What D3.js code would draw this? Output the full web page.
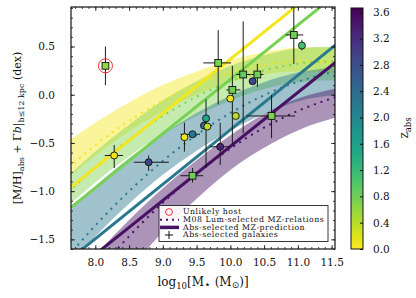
<!DOCTYPE html>
<html><head><meta charset="utf-8">
<script src="https://cdn.jsdelivr.net/npm/d3@7"></script>
<style>
body{margin:0;background:#fff}
text{font-family:"DejaVu Serif",serif;fill:#111}
</style>
</head><body>
<svg id="c" width="416" height="298"></svg>
<script>
// ---------- data ----------
const xTicks = [8.0, 8.5, 9.0, 9.5, 10.0, 10.5, 11.0, 11.5];
const yTicks = [-1.5, -1.0, -0.5, 0.0, 0.5];
const cbTicks = [0.0, 0.4, 0.8, 1.2, 1.6, 2.0, 2.4, 2.8, 3.2, 3.6];

// M08 luminosity-selected MZ relations (dotted centre + shaded range)
const bandZ = [0.07, 0.7, 2.2, 3.5];
const massGrid = [7.6, 8.0, 8.5, 9.0, 9.5, 10.0, 10.5, 11.0, 11.6];
const bandMid = [
  [-0.757, -0.524, -0.271, -0.061, 0.106, 0.230, 0.310, 0.347, 0.335],
  [-1.012, -0.751, -0.464, -0.221, -0.020, 0.137, 0.251, 0.322, 0.350],
  [-1.674, -1.357, -1.001, -0.687, -0.417, -0.189, -0.005, 0.135, 0.247],
  [-2.200, -1.858, -1.468, -1.121, -0.818, -0.558, -0.341, -0.168, -0.016]
];
const bandHi = [
  [-0.48, -0.29, -0.08, 0.10, 0.24, 0.36, 0.44, 0.49, 0.49],
  [-0.84, -0.59, -0.31, -0.06, 0.14, 0.30, 0.41, 0.48, 0.50],
  [-1.22, -0.95, -0.66, -0.41, -0.19, -0.01, 0.13, 0.23, 0.29],
  [-1.95, -1.66, -1.30, -0.97, -0.68, -0.42, -0.20, -0.04, 0.07]
];
const bandLo = [
  [-0.86, -0.63, -0.38, -0.17, 0.00, 0.13, 0.21, 0.24, 0.22],
  [-1.15, -0.91, -0.64, -0.41, -0.22, -0.06, 0.06, 0.13, 0.15],
  [-1.78, -1.47, -1.13, -0.83, -0.58, -0.37, -0.20, -0.07, 0.00],
  [-2.60, -2.25, -1.82, -1.42, -1.08, -0.78, -0.55, -0.37, -0.23]
];

// Abs-selected MZ predictions (straight lines)
const lineZ = [0.07, 0.75, 2.2, 3.5];
const lineMass = [7.6, 11.6];
const lineMet = [
  [-0.98, 1.27],
  [-1.19, 1.06],
  [-1.72, 0.54],
  [-1.88, 0.36]
];

// Abs-selected galaxies
const galMass  = [8.28, 8.79, 9.44, 9.32, 9.44, 9.64, 9.61, 9.66, 9.82, 10.19, 10.40, 10.33, 10.03, 10.00, 10.08, 10.61, 10.94, 11.06, 9.85];
const galMet   = [-0.63, -0.70, -0.84, -0.44, -0.41, -0.245, -0.32, -0.33, 0.33, 0.21, 0.21, 0.14, 0.05, -0.04, -0.22, -0.22, 0.62, 0.51, -0.54];
const galZ     = [0.10, 2.9, 0.8, 0.10, 2.2, 1.5, 2.4, 0.35, 0.75, 0.9, 0.8, 2.9, 0.8, 0.10, 0.40, 0.7, 0.8, 1.1, 3.3];
const galShape = ["o","o","s","o","o","o","o","o","s","s","s","o","s","o","o","s","s","o","o"];
const galMassLo = [8.14, 8.57, 9.26, 9.32, 9.26, 9.64, 9.55, 9.66, 9.60, 10.09, 10.31, 10.33, 9.94, 10.00, 10.08, 10.24, 10.82, 11.06, 9.70];
const galMassHi = [8.41, 9.09, 9.60, 9.32, 9.55, 9.64, 9.73, 9.66, 10.01, 10.30, 10.49, 10.33, 10.15, 10.00, 10.08, 10.96, 11.08, 11.06, 10.00];
const galMetLo  = [-0.76, -0.79, -0.91, -0.59, -0.41, -0.76, -0.32, -0.33, -0.10, -0.40, 0.08, 0.14, -0.52, -0.04, -0.22, -0.45, 0.32, 0.46, -0.73];
const galMetHi  = [-0.52, -0.63, -0.76, -0.29, -0.41, -0.05, -0.32, -0.33, 0.67, 0.76, 0.32, 0.14, 0.30, -0.04, -0.22, 0.00, 0.91, 0.57, -0.29];

// Unlikely host
const hostMass = [8.15];
const hostMet = [0.30];
const hostZ = [0.6];
const hostMetLo = [0.10];
const hostMetHi = [0.50];

const legendLabels = ["Unlikely host", "M08 Lum-selected MZ-relations", "Abs-selected MZ-prediction", "Abs-selected galaxies"];

// ---------- layout ----------
const svg = d3.select("#c");
const L = 71, T = 7, R = 335, B = 249;
const x = d3.scaleLinear().domain([7.64, 11.55]).range([L, R]);
const y = d3.scaleLinear().domain([-1.6, 0.91]).range([B, T]);
const zMax = 3.665;
const col = z => d3.interpolateViridis(1 - z / zMax);

svg.append("defs").append("clipPath").attr("id", "clip")
  .append("rect").attr("x", L).attr("y", T).attr("width", R - L).attr("height", B - T);

const plot = svg.append("g").attr("clip-path", "url(#clip)");

// bands
const area = d3.area().curve(d3.curveMonotoneX)
  .x(d => x(d[0])).y0(d => y(d[1])).y1(d => y(d[2]));
bandZ.forEach((z, i) => {
  const pts = massGrid.map((m, j) => [m, bandLo[i][j], bandHi[i][j]]);
  plot.append("path").attr("d", area(pts))
    .attr("fill", col(z)).attr("fill-opacity", 0.45).attr("stroke", "none");
});
// dotted centres
const ln = d3.line().curve(d3.curveMonotoneX).x(d => x(d[0])).y(d => y(d[1]));
bandZ.forEach((z, i) => {
  const pts = massGrid.map((m, j) => [m, bandMid[i][j]]);
  plot.append("path").attr("d", ln(pts)).attr("fill", "none")
    .attr("stroke", col(z)).attr("stroke-width", 2)
    .attr("stroke-dasharray", "2,5");
});
// abs prediction lines
lineZ.forEach((z, i) => {
  const pts = lineMass.map((m, j) => [m, lineMet[i][j]]);
  plot.append("path").attr("d", ln(pts)).attr("fill", "none")
    .attr("stroke", col(z)).attr("stroke-width", 3);
});

// error bars
const eb = svg.append("g").attr("stroke", "#1a1a1a").attr("stroke-width", 1);
galMass.forEach((m, i) => {
  if (galMassHi[i] > galMassLo[i])
    eb.append("line").attr("x1", x(galMassLo[i])).attr("x2", x(galMassHi[i]))
      .attr("y1", y(galMet[i])).attr("y2", y(galMet[i]));
  if (galMetHi[i] > galMetLo[i])
    eb.append("line").attr("x1", x(m)).attr("x2", x(m))
      .attr("y1", y(galMetLo[i])).attr("y2", y(Math.min(galMetHi[i], 0.91)));
});
hostMass.forEach((m, i) => {
  eb.append("line").attr("x1", x(m)).attr("x2", x(m))
    .attr("y1", y(hostMetLo[i])).attr("y2", y(hostMetHi[i]));
});

// markers
const mk = svg.append("g").attr("stroke", "#111").attr("stroke-width", 0.9);
galMass.forEach((m, i) => {
  const cx = x(m), cy = y(galMet[i]);
  if (galShape[i] === "s")
    mk.append("rect").attr("x", cx - 3.4).attr("y", cy - 3.4).attr("width", 6.8).attr("height", 6.8).attr("fill", col(galZ[i]));
  else
    mk.append("circle").attr("cx", cx).attr("cy", cy).attr("r", 3.5).attr("fill", col(galZ[i]));
});
hostMass.forEach((m, i) => {
  const cx = x(m), cy = y(hostMet[i]);
  mk.append("rect").attr("x", cx - 3.4).attr("y", cy - 3.4).attr("width", 6.8).attr("height", 6.8).attr("fill", col(hostZ[i]));
  svg.append("circle").attr("cx", cx).attr("cy", cy).attr("r", 7).attr("fill", "none").attr("stroke", "#f03030").attr("stroke-width", 1);
});

// axes (ticks inward, on all sides)
const xMinor = d3.range(7.7, 11.55, 0.1).map(v => +v.toFixed(1));
const yMinor = d3.range(-1.6, 0.91, 0.1).map(v => +v.toFixed(1));
const fmt = d3.format(".1f");
const minus = s => s.replace("-", "\u2212");
function axis(gen, tr, size, vals, labels) {
  const g = svg.append("g").attr("transform", tr)
    .call(gen.tickValues(vals).tickSizeInner(size).tickSizeOuter(0)
      .tickFormat(labels ? (d => minus(fmt(d))) : ""));
  g.select(".domain").remove();
  g.selectAll("line").attr("stroke", "#111").attr("stroke-width", 0.8);
  return g;
}
axis(d3.axisBottom(x), `translate(0,${B})`, -2, xMinor, false);
axis(d3.axisTop(x), `translate(0,${T})`, -2, xMinor, false);
axis(d3.axisLeft(y), `translate(${L},0)`, -2, yMinor, false);
axis(d3.axisRight(y), `translate(${R},0)`, -2, yMinor, false);
const gxb = axis(d3.axisBottom(x), `translate(0,${B})`, -4, xTicks, true);
gxb.selectAll("text").attr("y", 10).attr("dy", "0.71em").style("font-size", "10.5px");
axis(d3.axisTop(x), `translate(0,${T})`, -4, xTicks, false);
const gyl = axis(d3.axisLeft(y), `translate(${L},0)`, -4, yTicks, true);
gyl.selectAll("text").attr("x", -16).style("font-size", "10.5px");
axis(d3.axisRight(y), `translate(${R},0)`, -4, yTicks, false);
svg.append("rect").attr("x", L).attr("y", T).attr("width", R - L).attr("height", B - T)
  .attr("fill", "none").attr("stroke", "#111").attr("stroke-width", 1.2);

// legend
const lg = svg.append("g");
lg.append("rect").attr("x", 159).attr("y", 205.5).attr("width", 169).attr("height", 36)
  .attr("fill", "#fff").attr("fill-opacity", 0.9).attr("stroke", "#222").attr("stroke-width", 0.9);
const rowY = [212, 219.8, 227.4, 235];
lg.append("circle").attr("cx", 169).attr("cy", rowY[0]).attr("r", 3.4).attr("fill", "none").attr("stroke", "#f03030").attr("stroke-width", 1);
lg.append("line").attr("x1", 160).attr("x2", 179).attr("y1", rowY[1]).attr("y2", rowY[1])
  .attr("stroke", col(3.5)).attr("stroke-width", 2).attr("stroke-dasharray", "2,4");
lg.append("line").attr("x1", 160).attr("x2", 179).attr("y1", rowY[2]).attr("y2", rowY[2])
  .attr("stroke", col(3.5)).attr("stroke-width", 3.5);
lg.append("path").attr("d", `M165,${rowY[3]}h8M169,${rowY[3] - 4}v8`).attr("stroke", "#111").attr("stroke-width", 1);
legendLabels.forEach((t, i) => {
  lg.append("text").attr("x", 183).attr("y", rowY[i]).attr("dy", "0.32em")
    .style("font-size", "7.8px").style("letter-spacing", "0.5px").text(t);
});

// axis titles
const xl = svg.append("text").attr("x", 203).attr("y", 286).attr("text-anchor", "middle").style("font-size", "12px");
xl.append("tspan").text("log");
xl.append("tspan").attr("dy", 3).style("font-size", "8.5px").text("10");
xl.append("tspan").attr("dy", -3).text("[M");
xl.append("tspan").attr("dy", 2).style("font-size", "11px").style("font-family", "DejaVu Sans").text("\u22c6");
xl.append("tspan").attr("dy", -2).text(" (M");
xl.append("tspan").attr("dy", 2).style("font-size", "9px").style("font-family", "DejaVu Sans").text("\u2299");
xl.append("tspan").attr("dy", -2).text(")]");

const yl = svg.append("text").attr("transform", "translate(21,128) rotate(-90)").attr("text-anchor", "middle").style("font-size", "11px");
yl.append("tspan").text("[M/H]");
yl.append("tspan").attr("dy", 3).style("font-size", "8px").text("abs");
yl.append("tspan").attr("dy", -3).text(" + \u0393");
yl.append("tspan").style("font-style", "italic").text("b");
yl.append("tspan").text("|");
yl.append("tspan").attr("dy", 3).style("font-size", "8px").text("b\u226412 kpc");
yl.append("tspan").attr("dy", -3).text(" (dex)");

// colorbar
const cbL = 351, cbR = 363, cbT = 8, cbB = 249;
const cy = d3.scaleLinear().domain([0, zMax]).range([cbB, cbT]);
const grad = svg.select("defs").append("linearGradient").attr("id", "vg")
  .attr("x1", 0).attr("x2", 0).attr("y1", 1).attr("y2", 0);
d3.range(0, 1.0001, 0.05).forEach(t => grad.append("stop").attr("offset", t).attr("stop-color", d3.interpolateViridis(1 - t)));
svg.append("rect").attr("x", cbL).attr("y", cbT).attr("width", cbR - cbL).attr("height", cbB - cbT)
  .attr("fill", "url(#vg)").attr("stroke", "#111").attr("stroke-width", 1);
const gcb = svg.append("g").attr("transform", `translate(${cbR},0)`)
  .call(d3.axisRight(cy).tickValues(cbTicks).tickSizeInner(-3).tickSizeOuter(0).tickFormat(fmt));
gcb.select(".domain").remove();
gcb.selectAll("line").attr("stroke", "#111");
gcb.selectAll("text").attr("x", 10).style("font-size", "10.5px");
const zl = svg.append("text").attr("transform", "translate(408,128) rotate(-90)").attr("text-anchor", "middle").style("font-size", "12px");
zl.append("tspan").text("z");
zl.append("tspan").attr("dy", 3).style("font-size", "8.5px").text("abs");
</script>
</body></html>
